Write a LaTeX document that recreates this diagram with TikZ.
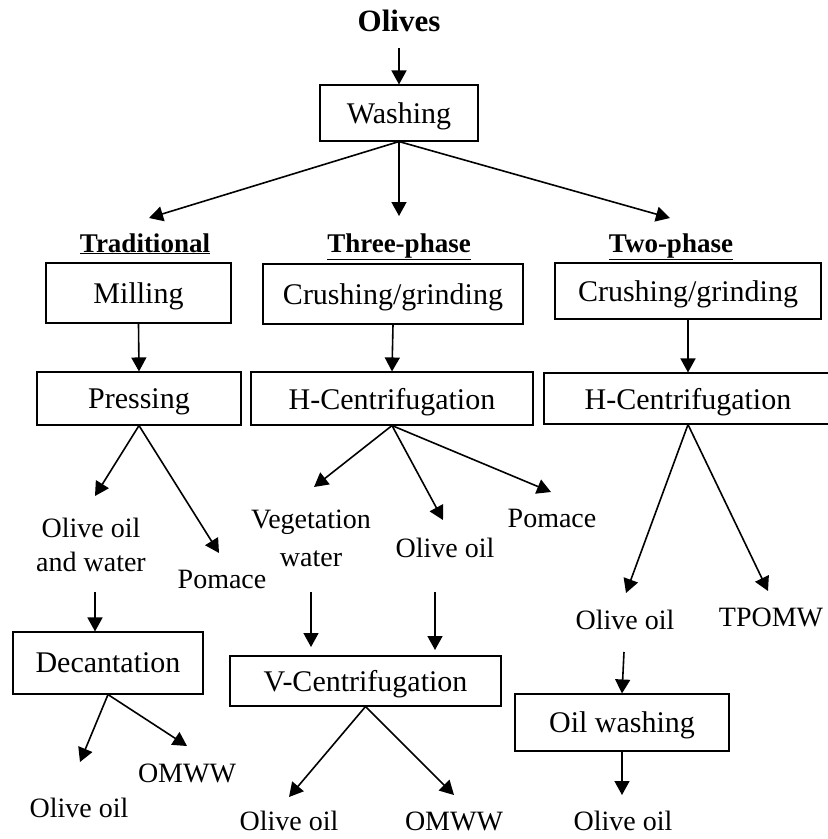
\documentclass[tikz,border=0pt]{standalone}
\usepackage{fontspec}
\setmainfont{Liberation Serif}
\usetikzlibrary{arrows.meta}
\begin{document}
\begin{tikzpicture}[x=1pt,y=-1pt,
  box/.style={draw, line width=1.1pt, inner sep=0pt, text depth=0pt, font=\fontsize{30}{34}\selectfont},
  lbl/.style={inner sep=0pt, anchor=base, font=\fontsize{28}{32}\selectfont},
  head/.style={inner sep=0pt, anchor=base, font=\fontsize{27}{31}\selectfont\bfseries},
  arr/.style={-{Triangle[length=14pt,width=15pt]}, line width=1.6pt}]
\path[use as bounding box] (0,0) rectangle (828,839);
\clip (0,0) rectangle (828,839);

% title and top
\node[inner sep=0pt, anchor=base, font=\fontsize{31}{35}\selectfont\bfseries] (olives) at (399,31) {Olives};
\node[box, minimum width=158pt, minimum height=56pt] (wash) at (399,113) {Washing};
\coordinate (oa) at (399,48);
\draw[arr] (oa) -- (wash.north);

% headings
\node[head] (trad) at (145,252) {\underline{Traditional}};
\node[head] (three) at (399,252) {\underline{Three-phase}};
\node[head] (two) at (671,252) {\underline{Two-phase}};
\coordinate (wt) at (149,218);
\coordinate (wm) at (399,216);
\coordinate (wr) at (670,218);
\draw[arr] (wash.south) -- (wt);
\draw[arr] (wash.south) -- (wm);
\draw[arr] (wash.south) -- (wr);

% traditional
\node[box, minimum width=185pt, minimum height=60pt] (mill) at (138.5,293) {Milling};
\node[box, minimum width=204pt, minimum height=53pt] (press) at (139,398.5) {Pressing};
\draw[arr] (mill.south) -- (press.north);
\node[lbl] (oaw1) at (91,537) {Olive oil};
\node[lbl] (oaw2) at (91,571) {and water};
\node[lbl] (pom1) at (222,588) {Pomace};
\coordinate (p1) at (95,496);
\coordinate (p2) at (219,553);
\draw[arr] (press.south) -- (p1);
\draw[arr] (press.south) -- (p2);
\node[box, minimum width=190pt, minimum height=62pt] (dec) at (108,663) {Decantation};
\coordinate (d0) at (95,592);
\draw[arr] (d0) -- (d0 |- dec.north);
\coordinate (d1) at (80,762);
\coordinate (d2) at (187,746);
\draw[arr] (dec.south) -- (d1);
\draw[arr] (dec.south) -- (d2);
\node[lbl] (omww1) at (187,782) {OMWW};
\node[lbl] (oil1) at (79,817) {Olive oil};

% three-phase
\node[box, minimum width=260pt, minimum height=60pt] (cr3) at (393,294) {Crushing/grinding};
\node[box, minimum width=282pt, minimum height=53pt] (h3) at (392,398.5) {H-Centrifugation};
\draw[arr] (cr3.south) -- (h3.north);
\coordinate (h3a) at (314,487);
\coordinate (h3b) at (443,520);
\coordinate (h3c) at (551,492);
\draw[arr] (h3.south) -- (h3a);
\draw[arr] (h3.south) -- (h3b);
\draw[arr] (h3.south) -- (h3c);
\node[lbl] (veg1) at (311,528) {Vegetation};
\node[lbl] (veg2) at (311,566) {water};
\node[lbl] (oil3) at (445,557) {Olive oil};
\node[lbl] (pom3) at (552,527) {Pomace};
\node[box, minimum width=271pt, minimum height=50pt] (vc) at (365.5,681) {V-Centrifugation};
\coordinate (v1s) at (311,592);
\coordinate (v1e) at (311,647);
\coordinate (v2s) at (435,592);
\coordinate (v2e) at (435,650);
\draw[arr] (v1s) -- (v1e);
\draw[arr] (v2s) -- (v2e);
\coordinate (vca) at (289,797);
\coordinate (vcb) at (454,795);
\draw[arr] (vc.south) -- (vca);
\draw[arr] (vc.south) -- (vcb);
\node[lbl] (oil3b) at (289,830) {Olive oil};
\node[lbl] (omww3) at (454,830) {OMWW};

% two-phase
\node[box, minimum width=266pt, minimum height=56pt] (cr2) at (688,291) {Crushing/grinding};
\node[box, minimum width=288pt, minimum height=51pt] (h2) at (688,398.5) {H-Centrifugation};
\draw[arr] (cr2.south) -- (cr2.south |- h2.north);
\coordinate (h2a) at (626,593);
\coordinate (h2b) at (768,591);
\draw[arr] (h2.south) -- (h2a);
\draw[arr] (h2.south) -- (h2b);
\node[lbl] (oil2) at (625,629) {Olive oil};
\node[lbl] (tpomw) at (771,626) {TPOMW};
\node[box, minimum width=214pt, minimum height=57pt] (ow) at (622,722.5) {Oil washing};
\coordinate (o2s) at (624,652);
\draw[arr] (o2s) -- (ow.north);
\coordinate (owe) at (622,795);
\draw[arr] (ow.south) -- (owe);
\node[lbl] (oil2b) at (623,830) {Olive oil};
\end{tikzpicture}
\end{document}
